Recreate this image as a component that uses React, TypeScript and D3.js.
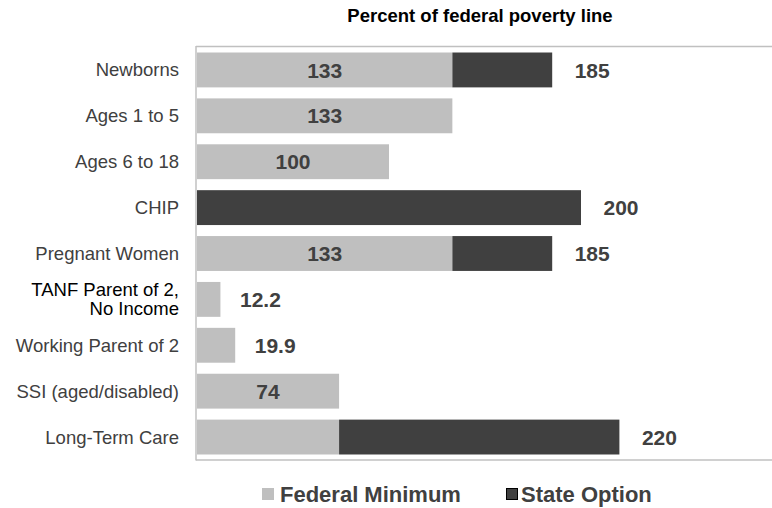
import React, { useEffect } from "react";
import * as d3 from "d3";

const categories = [
  "Newborns",
  "Ages 1 to 5",
  "Ages 6 to 18",
  "CHIP",
  "Pregnant Women",
  "TANF Parent of 2,|No Income",
  "Working Parent of 2",
  "SSI (aged/disabled)",
  "Long-Term Care",
];
const federalMinimum = [133, 133, 100, 0, 133, 12.2, 19.9, 74, 74];
const stateOptionExtra = [52, 0, 0, 200, 52, 0, 0, 0, 146];
const insideLabels = ["133", "133", "100", "", "133", "", "", "74", ""];
const outsideLabels = ["185", "", "", "200", "185", "12.2", "19.9", "", "220"];
const seriesNames = ["Federal Minimum", "State Option"];
const title = "Percent of federal poverty line";

const W = 772;
const H = 508;
const FED = "#bfbfbf";
const STATE = "#404040";
const TEXT = "#404040";
const FONT = "'Liberation Sans', Arial, sans-serif";

export default function App() {
  useEffect(() => {
    document.body.style.margin = "0";
  }, []);

  const x = d3.scaleLinear().domain([0, 300]).range([197, 773]);
  const y = d3
    .scaleBand<string>()
    .domain(categories)
    .range([47, 460])
    .paddingInner(0.24)
    .paddingOuter(0.12);
  const bw = y.bandwidth();

  return (
    <svg width={W} height={H} style={{ display: "block" }} fontFamily={FONT}>
      <rect width={W} height={H} fill="#fff" />
      <text x={480} y={22} textAnchor="middle" fontSize={18.5} fontWeight="bold" fill="#000">
        {title}
      </text>
      {/* frame */}
      <line x1={x(0) - 1} x2={W} y1={46.5} y2={46.5} stroke="#c0c0c0" strokeWidth={1.5} />
      <line x1={x(0) - 1} x2={W} y1={460} y2={460} stroke="#c0c0c0" strokeWidth={1.5} />
      <line x1={x(0) - 1} x2={x(0) - 1} y1={46} y2={460.5} stroke="#c0c0c0" strokeWidth={1.5} />

      {categories.map((c, i) => {
        const y0 = y(c)!;
        const cy = y0 + bw / 2;
        const f = federalMinimum[i];
        const s = stateOptionExtra[i];
        const total = f + s;
        const lines = c.split("|");
        return (
          <g key={c}>
            {f > 0 && (
              <rect x={x(0)} y={y0} width={x(f) - x(0)} height={bw} fill={FED} />
            )}
            {s > 0 && (
              <rect x={x(f)} y={y0} width={x(total) - x(f)} height={bw} fill={STATE} />
            )}
            {insideLabels[i] && (
              <text
                x={(x(0) + x(f)) / 2}
                y={cy}
                dy="0.36em"
                textAnchor="middle"
                fontSize={21}
                fontWeight="bold"
                fill={TEXT}
              >
                {insideLabels[i]}
              </text>
            )}
            {outsideLabels[i] && (
              <text
                x={x(total) + 40}
                y={cy}
                dy="0.36em"
                textAnchor="middle"
                fontSize={21}
                fontWeight="bold"
                fill={TEXT}
              >
                {outsideLabels[i]}
              </text>
            )}
            {lines.length === 1 ? (
              <text x={179} y={cy} dy="0.35em" textAnchor="end" fontSize={18.5} fill={TEXT}>
                {c}
              </text>
            ) : (
              lines.map((ln, k) => (
                <text
                  key={k}
                  x={179}
                  y={cy + (k - 0.5) * 19}
                  dy="0.35em"
                  textAnchor="end"
                  fontSize={18.5}
                  fill="#000"
                >
                  {ln}
                </text>
              ))
            )}
          </g>
        );
      })}

      {/* legend */}
      <g>
        <rect x={262} y={488} width={12} height={12} fill={FED} />
        <text x={280} y={502} fontSize={22} fontWeight="bold" fill={TEXT}>
          {seriesNames[0]}
        </text>
        <rect x={506.5} y={488.5} width={11} height={11} fill={STATE} stroke="#000" strokeWidth={1} />
        <text x={521} y={502} fontSize={22} fontWeight="bold" fill={TEXT}>
          {seriesNames[1]}
        </text>
      </g>
    </svg>
  );
}
